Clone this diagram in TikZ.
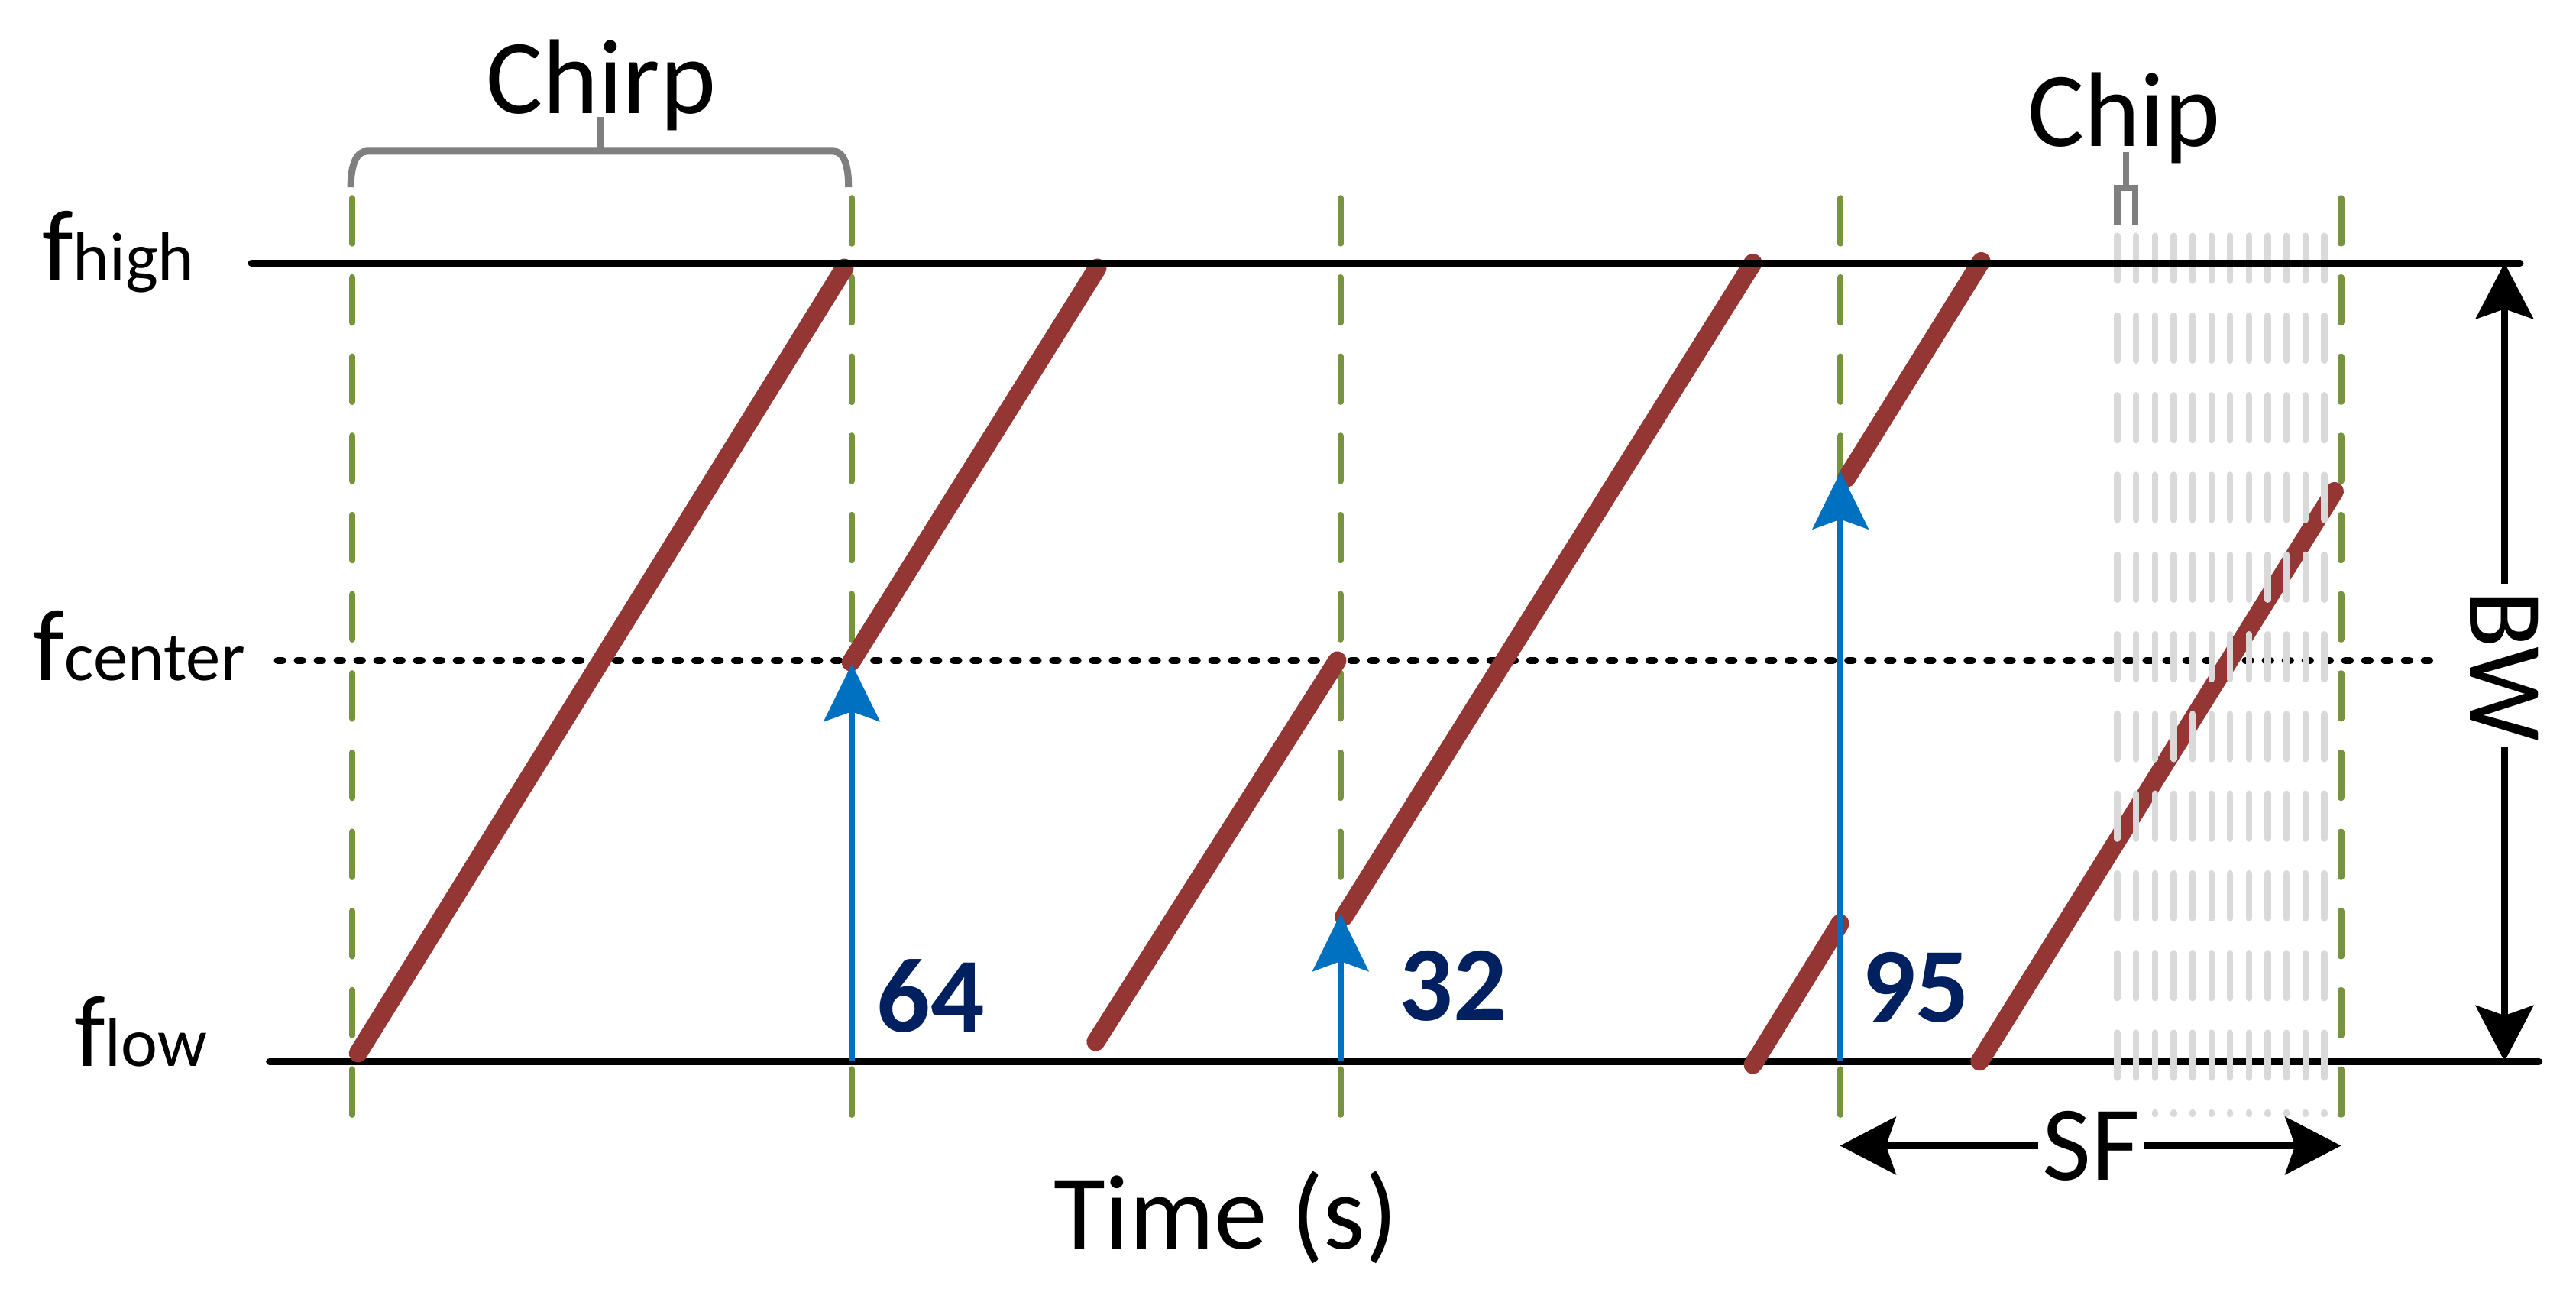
\documentclass[tikz,border=0pt]{standalone}
\usepackage{fontspec}
\setmainfont{Carlito}
\usetikzlibrary{arrows.meta}

\definecolor{chirpred}{HTML}{943634}
\definecolor{slotgreen}{HTML}{77933C}
\definecolor{symblue}{HTML}{0070C0}
\definecolor{numblue}{HTML}{002060}
\definecolor{chipgray}{HTML}{D9D9D9}
\definecolor{bracegray}{HTML}{7F7F7F}

\newcommand{\fsub}[1]{{\fontsize{12}{14}\selectfont #1}}

\begin{document}
\begin{tikzpicture}[x=0.1mm, y=-0.1mm,
    every node/.style={inner sep=0pt},
    lbl/.style={font=\fontsize{18.4}{22}\selectfont, anchor=base},
    flbl/.style={font=\fontsize{17.6}{21}\selectfont, anchor=base west},
    numlbl/.style={font=\fontsize{18.4}{22}\selectfont\bfseries, text=numblue, anchor=base},
    axisline/.style={line width=1.2pt, line cap=round},
    centerline/.style={line width=1.3pt, line cap=round, dash pattern=on 0.3mm off 0.91mm},
    slotline/.style={slotgreen, line width=1.1pt, line cap=round, dash pattern=on 2.75mm off 2.07mm},
    chipline/.style={chipgray, line width=1.1pt, line cap=round, dash pattern=on 2.74mm off 2.11mm},
    chirpline/.style={chirpred, line width=3.2pt, line cap=round},
    symarrow/.style={symblue, line width=1.1pt, -{Stealth[length=3.5mm, width=3.4mm, inset=0.6mm]}},
    dimarrow/.style={line width=1.2pt, -{Stealth[length=3.4mm, width=3.5mm, inset=0.6mm]}},
    brace/.style={bracegray, line width=1.2pt}]

    \useasboundingbox (0,0) rectangle (1568,792);

    % symbol boundaries
    \foreach \x in {214.5, 518.5, 816, 1120.3, 1425}
        \draw[slotline] (\x,120.6) -- (\x,680);

    % frequency levels
    \coordinate (lowL) at (164,646);
    \coordinate (lowR) at (1545.5,646);
    \coordinate (highL) at (153,160);
    \coordinate (highR) at (1534,160);
    \draw[axisline] (lowL) -- (lowR);
    \draw[centerline] (169,402) -- (1485,402);

    % chirps
    \draw[chirpline] (218,641) -- (514,163)
        (518,403) -- (668,163)
        (667,634) -- (814,402)
        (818,558) -- (1067,160)
        (1067,648) -- (1120,562)
        (1124,291) -- (1206,159)
        (1205,646) -- (1421,299);

    % chips
    \foreach \i in {0,...,11}{
        \pgfmathsetmacro{\cx}{1288.8+11.45*\i}
        \pgfmathsetmacro{\cy}{\i<2 ? 660 : 678}
        \draw[chipline] (\cx,143.5) -- (\cx,\cy);
    }

    \draw[axisline] (highL) -- (highR);

    % symbol values
    \foreach \x/\tip in {518.5/404, 816/556, 1120.3/287}
        \draw[symarrow] (\x,646) -- (\x,\tip);
    \node[numlbl] (n64) at (566.5,628) {64};
    \node[numlbl] (n32) at (884.5,621) {32};
    \node[numlbl] (n95) at (1166,622) {95};

    % level labels
    \node[flbl] (fhigh) at (25,171) {f\fsub{high}};
    \node[flbl] (fcenter) at (19.6,414) {f\fsub{center}};
    \node[flbl] (flow) at (44.5,649) {f\fsub{low}};

    % chirp brace
    \node[lbl] (chirp) at (366,69) {Chirp};
    \draw[brace] (213.5,114) .. controls (213.5,100) and (217,92) .. (223.5,92)
        -- (507,92) .. controls (513.5,92) and (516.5,100) .. (516.5,114);
    \draw[brace] (365.5,92) -- (365.5,71);

    % chip bracket
    \node[lbl] (chip) at (1293,89) {Chip};
    \draw[brace, line width=1.1pt] (1288.8,137) -- (1288.8,114.5) -- (1299.8,114.5) -- (1299.8,137)
        (1294,114.5) -- (1294,92.6);

    % bandwidth
    \coordinate (bwtop) at (1524.5,160);
    \coordinate (bwbot) at (1524.5,646);
    \node[lbl, anchor=center, rotate=-90, inner sep=0.3mm] (bw) at (1524.5,405) {BW};
    \draw[dimarrow] (bw.west) -- (bwtop);
    \draw[dimarrow] (bw.east) -- (bwbot);

    % spreading factor
    \coordinate (sfl) at (1120,698);
    \coordinate (sfr) at (1425,698);
    \node[lbl, inner xsep=0.2mm] (sf) at (1273,718) {SF};
    \draw[dimarrow, line width=1.1pt] (sf.west) -- (sf.west -| sfl);
    \draw[dimarrow, line width=1.1pt] (sf.east) -- (sf.east -| sfr);

    \node[lbl] (time) at (746,760) {Time (s)};
\end{tikzpicture}
\end{document}
